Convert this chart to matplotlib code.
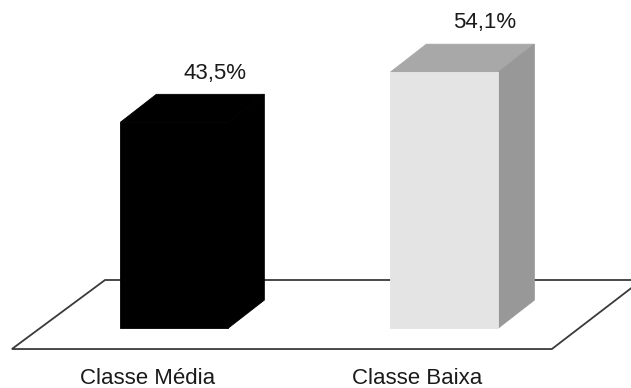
import matplotlib
matplotlib.use("Agg")
import matplotlib.pyplot as plt
from matplotlib.patches import Polygon

categories = ["Classe Média", "Classe Baixa"]
values = [43.5, 54.1]
value_labels = ["43,5%", "54,1%"]

# styles
front_colors = ["#000000", "#e4e4e4"]
top_colors = ["#000000", "#a8a8a8"]
side_colors = ["#000000", "#989898"]
bar_w = 0.40
dx, dy = 0.133, 5.9  # 3D depth in data units

plt.rcParams['font.family'] = ['Liberation Sans', 'DejaVu Sans']
fig = plt.figure(figsize=(6.31, 3.88), dpi=100)
ax = fig.add_axes([0, 0, 1, 1])
ax.set_xlim(-0.646, 1.691)
ax.set_ylim(-12.68, 69.34)
ax.axis('off')

# floor plane
floor = Polygon([(-0.602, -4.44), (1.398, -4.44), (1.731, 10.15), (-0.257, 10.15)],
                closed=True, facecolor='white', edgecolor='#3a3a3a', linewidth=1.3, zorder=1)
ax.add_patch(floor)

for i, (v, lab) in enumerate(zip(values, value_labels)):
    x0, x1 = i - bar_w / 2, i + bar_w / 2
    front = Polygon([(x0, 0), (x1, 0), (x1, v), (x0, v)], closed=True,
                    facecolor=front_colors[i], edgecolor=front_colors[i], linewidth=0.6, zorder=3.2)
    top = Polygon([(x0, v), (x1, v), (x1 + dx, v + dy), (x0 + dx, v + dy)], closed=True,
                  facecolor=top_colors[i], edgecolor=top_colors[i], linewidth=0.6, zorder=3)
    side = Polygon([(x1, 0), (x1 + dx, dy), (x1 + dx, v + dy), (x1, v)], closed=True,
                   facecolor=side_colors[i], edgecolor=side_colors[i], linewidth=0.6, zorder=3.1)
    for p in (top, side, front):
        ax.add_patch(p)
    ax.text(i + 0.15, v + dy + 4.5, lab, ha='center', va='center', fontsize=16, color='#1a1a1a', zorder=4)
    ax.text(i - 0.10, -10.6, categories[i], ha='center', va='center', fontsize=16, color='#1a1a1a', zorder=4)

fig.savefig("out.png", dpi=100)
